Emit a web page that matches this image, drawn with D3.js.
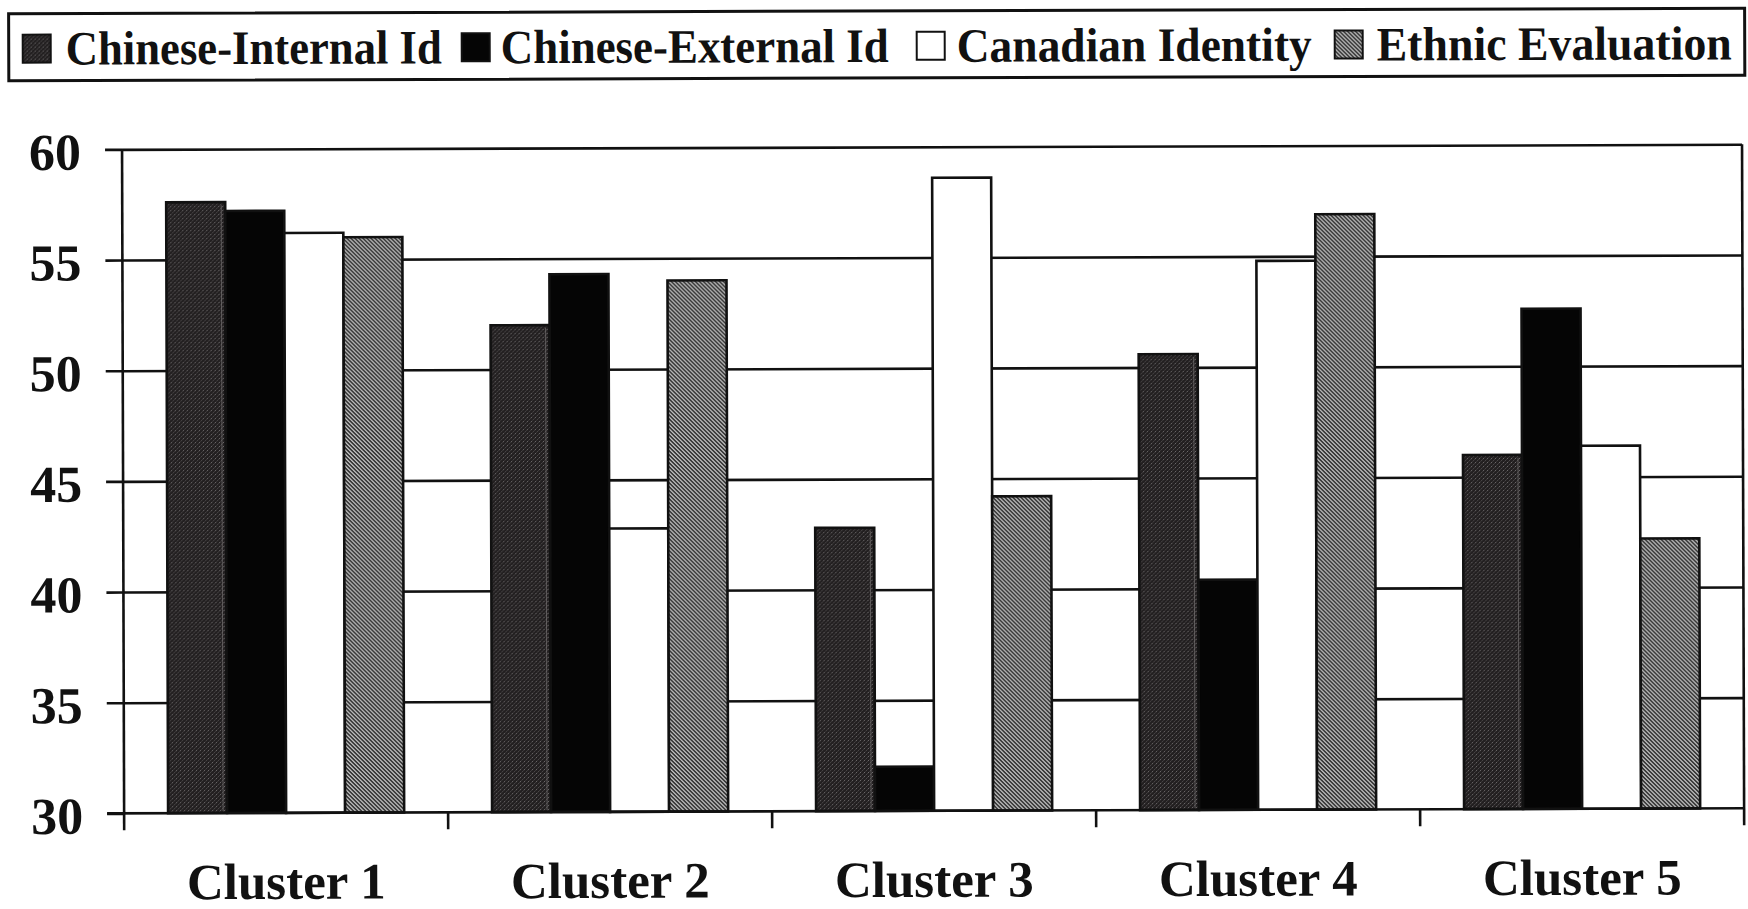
<!DOCTYPE html>
<html>
<head>
<meta charset="utf-8">
<script src="https://cdn.jsdelivr.net/npm/d3@7"></script>
<style>
  html, body { margin: 0; padding: 0; background: #fff; }
  svg { display: block; }
  text { font-family: "Liberation Serif", "Times New Roman", serif; font-weight: bold; fill: #111; }
</style>
</head>
<body>
<svg id="chart" width="1748" height="909"></svg>
<script>
// ---- data ----
const clusters = ["Cluster 1", "Cluster 2", "Cluster 3", "Cluster 4", "Cluster 5"];
const seriesNames = ["Chinese-Internal Id", "Chinese-External Id", "Canadian Identity", "Ethnic Evaluation"];
const internalId = [57.6, 52.0, 42.8, 50.6, 46.0];
const externalId = [57.2, 54.3, 32.0, 40.4, 52.6];
const canadianId = [56.2, 42.8, 58.6, 54.8, 46.4];
const ethnicEval = [56.0, 54.0, 44.2, 56.9, 42.2];
const yTicks = [30, 35, 40, 45, 50, 55, 60];

const seriesValues = [internalId, externalId, canadianId, ethnicEval];

// ---- layout ----
const plot = { left: 123, right: 1743, top: 147, bottom: 811 };
const tickLen = 17;
const lineW = 2.6;

const svg = d3.select("#chart");
const defs = svg.append("defs");

// grainy dark fill
const grain = defs.append("pattern").attr("id", "grain")
  .attr("patternUnits", "userSpaceOnUse").attr("width", 4).attr("height", 4);
grain.append("rect").attr("width", 4).attr("height", 4).attr("fill", "#221f20");
[[0, 0, "#6f6c6d"], [2, 2, "#4c494a"], [1, 3, "#3a3738"], [3, 1, "#403d3e"]].forEach(([px, py, c]) =>
  grain.append("rect").attr("x", px).attr("y", py).attr("width", 1).attr("height", 1).attr("fill", c));

// diagonal hatch fill
const hatch = defs.append("pattern").attr("id", "hatch")
  .attr("patternUnits", "userSpaceOnUse").attr("width", 4).attr("height", 4);
hatch.append("rect").attr("width", 4).attr("height", 4).attr("fill", "#fff");
hatch.append("path").attr("d", "M-1,-1 L5,5 M3,-1 L5,1 M-1,3 L1,5")
  .attr("stroke", "#1a1a1a").attr("stroke-width", 1.7);

const fills = ["url(#grain)", "#050505", "#ffffff", "url(#hatch)"];

const root = svg.append("g").attr("transform", "rotate(-0.18 874 454)");

// ---- scales ----
const x0 = d3.scaleBand().domain(clusters).range([plot.left, plot.right]).paddingInner(0).paddingOuter(0);
const x1 = d3.scaleBand().domain(seriesNames).range([0, x0.bandwidth()]).paddingInner(0).paddingOuter(0.745);
const y = d3.scaleLinear().domain([30, 60]).range([plot.bottom, plot.top]);

// ---- gridlines ----
root.append("g")
  .attr("transform", `translate(${plot.left},0)`)
  .call(d3.axisLeft(y).tickValues(yTicks.filter(v => v > 30)).tickSize(-(plot.right - plot.left)).tickFormat(""))
  .call(g => g.select(".domain").remove())
  .call(g => g.selectAll("line").attr("stroke", "#111").attr("stroke-width", lineW));

// ---- bars ----
const groups = root.append("g").selectAll("g")
  .data(clusters)
  .join("g")
  .attr("transform", d => `translate(${x0(d)},0)`);

const barData = (c, ci) => seriesNames.map((s, si) => ({ s, si, v: seriesValues[si][ci] }));

groups.selectAll("rect")
  .data(barData)
  .join("rect")
  .attr("x", d => x1(d.s))
  .attr("width", x1.bandwidth())
  .attr("y", d => y(d.v))
  .attr("height", d => y(30) - y(d.v))
  .attr("fill", d => fills[d.si])
  .attr("stroke", "#111")
  .attr("stroke-width", lineW);

// faint light streak along the right side of the grainy bars
groups.selectAll("line.streak")
  .data((c, ci) => barData(c, ci).filter(d => d.si === 0))
  .join("line").attr("class", "streak")
  .attr("x1", d => x1(d.s) + x1.bandwidth() - 4).attr("x2", d => x1(d.s) + x1.bandwidth() - 4)
  .attr("y1", d => y(d.v) + 3).attr("y2", y(30) - 2)
  .attr("stroke", "#8c8889").attr("stroke-width", 1).attr("stroke-opacity", 0.55);

// ---- y axis ----
const yAxis = root.append("g")
  .attr("transform", `translate(${plot.left},0)`)
  .call(d3.axisLeft(y).tickValues(yTicks).tickSize(tickLen).tickPadding(24).tickFormat(d3.format("d")));
yAxis.select(".domain").remove();
yAxis.selectAll("line").attr("stroke", "#111").attr("stroke-width", lineW);
yAxis.selectAll("text")
  .attr("font-size", 52).attr("font-family", "'Liberation Serif', serif").attr("font-weight", "bold")
  .attr("fill", "#111").attr("dy", "0.38em");

// frame: left axis, bottom axis, right edge
root.append("line")
  .attr("x1", plot.left).attr("x2", plot.left)
  .attr("y1", y(60)).attr("y2", plot.bottom + tickLen)
  .attr("stroke", "#111").attr("stroke-width", lineW);
root.append("line")
  .attr("x1", plot.right).attr("x2", plot.right)
  .attr("y1", y(60)).attr("y2", plot.bottom + tickLen)
  .attr("stroke", "#111").attr("stroke-width", lineW);
root.append("line")
  .attr("x1", plot.left - tickLen).attr("x2", plot.right)
  .attr("y1", plot.bottom).attr("y2", plot.bottom)
  .attr("stroke", "#111").attr("stroke-width", lineW);

// category boundary ticks
root.append("g").selectAll("line")
  .data(clusters.slice(1))
  .join("line")
  .attr("x1", d => x0(d)).attr("x2", d => x0(d))
  .attr("y1", plot.bottom).attr("y2", plot.bottom + tickLen)
  .attr("stroke", "#111").attr("stroke-width", lineW);

// category labels
const xAxis = root.append("g")
  .attr("transform", `translate(0,${plot.bottom})`)
  .call(d3.axisBottom(x0).tickSize(0));
xAxis.select(".domain").remove();
xAxis.selectAll("text")
  .attr("font-size", 51).attr("font-family", "'Liberation Serif', serif").attr("font-weight", "bold")
  .attr("fill", "#111").attr("y", 86).attr("dy", null);

// ---- legend ----
const legend = root.append("g");
legend.append("rect")
  .attr("x", 10).attr("y", 11).attr("width", 1736).attr("height", 67)
  .attr("fill", "#fff").attr("stroke", "#111").attr("stroke-width", 3);

const swatchX = [24, 463, 918, 1336];
const labelX = [67, 502, 958, 1378];
const labelW = [376, 388, 355, 355];

const items = legend.selectAll("g.item")
  .data(seriesNames)
  .join("g").attr("class", "item");
items.append("rect")
  .attr("x", (d, i) => swatchX[i]).attr("y", 32)
  .attr("width", 28).attr("height", 28)
  .attr("fill", (d, i) => fills[i])
  .attr("stroke", "#111").attr("stroke-width", 2);
items.append("text")
  .attr("x", (d, i) => labelX[i]).attr("y", 62)
  .attr("font-size", 48)
  .attr("textLength", (d, i) => labelW[i])
  .attr("lengthAdjust", "spacingAndGlyphs")
  .text(d => d);
</script>
</body>
</html>
